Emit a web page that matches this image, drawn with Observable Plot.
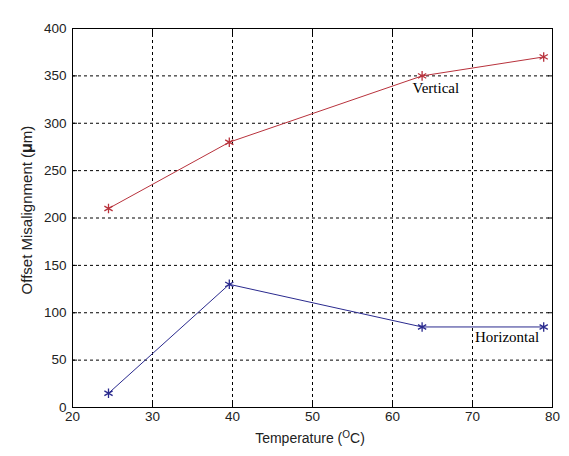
<!DOCTYPE html>
<html>
<head>
<meta charset="utf-8">
<script src="https://cdn.jsdelivr.net/npm/d3@7"></script>
<script src="https://cdn.jsdelivr.net/npm/@observablehq/plot@0.6"></script>
<style>
  html, body { margin: 0; padding: 0; background: #fff; }
  #chart svg { display: block; }
</style>
</head>
<body>
<div id="chart"></div>
<script>
// Data
const temperature = [24.5, 39.6, 63.7, 78.9];
const vertical = [210, 280, 350, 370];
const horizontal = [15, 130, 85, 85];
const xTicks = [20, 30, 40, 50, 60, 70, 80];
const yTicks = [0, 50, 100, 150, 200, 250, 300, 350, 400];
const seriesNames = ["Vertical", "Horizontal"];
const labelX = [62.5, 70.3];
const labelY = [337, 74];

const colors = {Vertical: "#b8323c", Horizontal: "#2a2a8e"};

const rows = [];
temperature.forEach((t, i) => {
  rows.push({series: "Vertical", t, v: vertical[i]});
  rows.push({series: "Horizontal", t, v: horizontal[i]});
});
const labels = seriesNames.map((s, i) => ({series: s, x: labelX[i], y: labelY[i]}));

const W = 569, H = 456;
const plot = Plot.plot({
  width: W,
  height: H,
  marginLeft: 72,
  marginRight: 17,
  marginTop: 28,
  marginBottom: 49,
  style: {fontFamily: "'Liberation Sans', Arial, sans-serif", fontSize: "13px", color: "#222", background: "#fff"},
  x: {domain: [20, 80], ticks: xTicks, label: null},
  y: {domain: [0, 400], ticks: yTicks, label: null},
  marks: [
    Plot.ruleX(xTicks.slice(1, -1), {stroke: "#000", strokeDasharray: "3,3", strokeWidth: 1}),
    Plot.ruleY(yTicks.slice(1, -1), {stroke: "#000", strokeDasharray: "3,3", strokeWidth: 1}),
    Plot.axisX({ticks: xTicks, tickSize: -5, tickPadding: 9, label: null, stroke: "#000", fontSize: 13.5}),
    Plot.axisX({ticks: xTicks, anchor: "top", tickSize: -5, tickFormat: () => "", label: null, stroke: "#000"}),
    Plot.axisY({ticks: yTicks, tickSize: -5, tickPadding: 11, label: null, stroke: "#000", fontSize: 13.5}),
    Plot.axisY({ticks: yTicks, anchor: "right", tickSize: -5, tickFormat: () => "", label: null, stroke: "#000"}),
    Plot.frame({stroke: "#000", strokeWidth: 1}),
    Plot.line(rows, {x: "t", y: "v", z: "series", stroke: d => colors[d.series], strokeWidth: 1}),
    Plot.dot(rows, {x: "t", y: "v", symbol: "asterisk", r: 4.5, stroke: d => colors[d.series], strokeWidth: 1.3}),
    Plot.text(labels, {x: "x", y: "y", text: "series", textAnchor: "start", fill: "#000",
      fontFamily: "'Liberation Serif', 'Times New Roman', serif", fontSize: 15})
  ]
});

document.getElementById("chart").appendChild(plot);

// Axis titles with superscript / bold mu
const svg = d3.select(plot);
const xt = svg.append("text")
  .attr("x", 310).attr("y", 443)
  .attr("text-anchor", "middle")
  .attr("font-family", "'Liberation Sans', Arial, sans-serif")
  .attr("font-size", 14).attr("fill", "#222");
xt.append("tspan").text("Temperature (");
xt.append("tspan").text("O").attr("font-size", 10).attr("dy", -5);
xt.append("tspan").text("C)").attr("dy", 5);

const yt = svg.append("text")
  .attr("transform", "translate(32,210) rotate(-90)")
  .attr("text-anchor", "middle")
  .attr("font-family", "'Liberation Sans', Arial, sans-serif")
  .attr("font-size", 15).attr("fill", "#222");
yt.append("tspan").text("Offset Misalignment (");
yt.append("tspan").text("μ").attr("font-weight", "bold").attr("font-size", 16);
yt.append("tspan").text("m)");
</script>
</body>
</html>
